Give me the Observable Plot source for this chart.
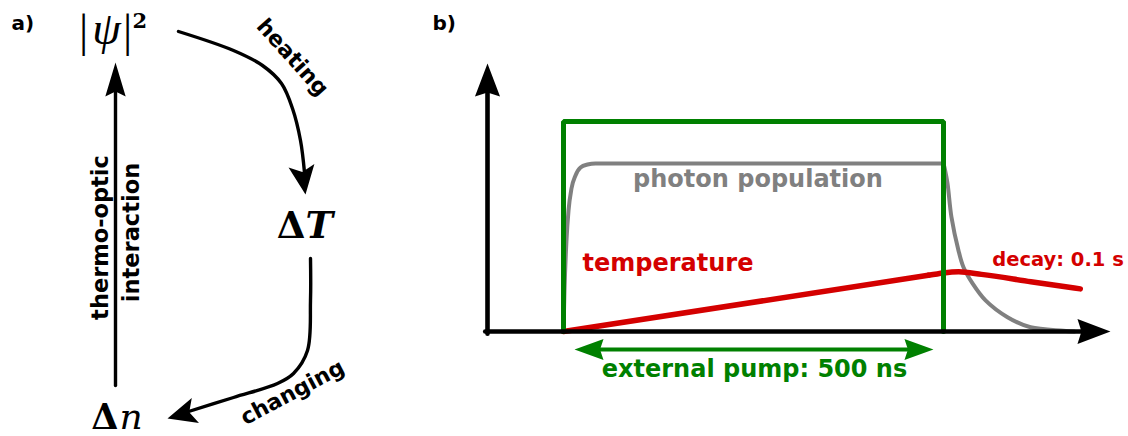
<!DOCTYPE html>
<html><head><meta charset="utf-8">
<script src="https://cdn.jsdelivr.net/npm/d3@7"></script>
<script src="https://cdn.jsdelivr.net/npm/@observablehq/plot@0.6"></script>
<style>
html,body{margin:0;padding:0;background:#fff;}
#wrap{display:flex;width:1128px;height:436px;overflow:hidden;background:#fff;}
#wrap svg{overflow:visible;}
</style></head><body><div id="wrap"></div>
<script>
// ================= Panel a: feedback loop (schematic units) =================
const loopEdgeLabels = ["heating", "changing"];
const loopFeedbackLabel = ["thermo-optic", "interaction"];
const heatingPath = [[178,31],[233,50],[262,65],[281,83],[292,108],[300,140],[304,172]];
const changingPath = [[310,258],[310,300],[307,350],[293,373],[277,383],[233,397],[185,412]];
const feedbackPath = [[115,385],[115,90]];
const curvedHeads = [
  {x:305, y:194, dir:172},
  {x:167, y:418, dir:-106}
];
const straightHead = [{x:115, y:62, dir:0}];

// ================= Panel b: time traces (t in ns, amplitude a.u.) =================
const pumpT = [0, 0, 500, 500];
const pumpV = [0, 1, 1, 0];
const photonRiseT = [0, 1.3, 3.9, 6.6, 10.5, 15.8, 22.4, 31.6, 42.1, 500];
const photonRiseV = [0, 0.195, 0.433, 0.576, 0.681, 0.743, 0.781, 0.795, 0.8, 0.8];
const photonDecayT = [500, 502, 505.3, 510.5, 519.7, 526.3, 538.2, 555.3, 584.2, 614.5, 657.9, 672];
const photonDecayV = [0.8, 0.77, 0.705, 0.544, 0.386, 0.306, 0.229, 0.148, 0.068, 0.020, 0.004, 0];
const tempRiseT = [0, 480];
const tempRiseV = [0, 0.2675];
const tempDecayT = [480, 500, 520, 550, 615, 680];
const tempDecayV = [0.2675, 0.279, 0.284, 0.272, 0.237, 0.203];
const pumpSpan = [14.5, 486.8];   // ns, ends of the double arrow
const pumpSpanLevel = -0.0857;
const axisOriginT = -100, axisEndT = 719.7, axisTopV = 1.276;

const seriesLabels = ["photon population", "temperature", "decay: 0.1 s", "external pump: 500 ns"];
const labelT = [255.9, 137.5, 650.7, 251.3];
const labelV = [0.690, 0.290, 0.314, -0.219];

// ---------- helpers ----------
function headShape(spread, notch) {
  return {
    draw(ctx, l) {
      const w = l * spread;
      ctx.moveTo(0, -l);
      ctx.lineTo(-w, 0);
      ctx.lineTo(0, -l * notch);
      ctx.lineTo(w, 0);
      ctx.closePath();
    }
  };
}
const SANS = "DejaVu Sans";
const SERIF = "DejaVu Serif";
const pts = (T, V) => T.map((t, i) => ({t, v: V[i]}));

// ================= Build panel a =================
const toPts = (arr) => arr.map(([x, y]) => ({x, y}));
const panelA = Plot.plot({
  width: 420, height: 436,
  margin: 0,
  x: {domain: [0, 420], range: [0, 420], axis: null},
  y: {domain: [0, 436], range: [0, 436], axis: null},
  style: {background: "#fff", fontFamily: SANS},
  marks: [
    Plot.line(toPts(heatingPath), {x: "x", y: "y", curve: "catmull-rom", stroke: "black", strokeWidth: 3.4}),
    Plot.line(toPts(changingPath), {x: "x", y: "y", curve: "catmull-rom", stroke: "black", strokeWidth: 3.4}),
    Plot.line(toPts(feedbackPath), {x: "x", y: "y", stroke: "black", strokeWidth: 3.4}),
    Plot.vector(curvedHeads, {x: "x", y: "y", rotate: "dir", length: 29, anchor: "end",
      shape: headShape(0.45, 0.22), fill: "black", stroke: "none"}),
    Plot.vector(straightHead, {x: "x", y: "y", rotate: "dir", length: 34, anchor: "end",
      shape: headShape(0.3, 0.15), fill: "black", stroke: "none"}),
    // panel tag
    Plot.text(["a)"], {x: [11], y: [29], text: d => d, textAnchor: "start", lineAnchor: "bottom",
      fontSize: 20, fontWeight: "bold", fontFamily: SANS, fill: "black"}),
    // |psi|^2
    Plot.text(["|", "|"], {x: [83, 127], y: [45, 45], text: d => d, lineAnchor: "bottom",
      fontSize: 46, fontFamily: "Liberation Serif", fill: "black"}),
    Plot.text(["ψ"], {x: [106], y: [43], text: d => d, lineAnchor: "bottom",
      fontSize: 46, fontStyle: "italic", fontFamily: "Liberation Serif", fill: "black"}),
    Plot.text(["2"], {x: [132], y: [27], text: d => d, textAnchor: "start", lineAnchor: "bottom",
      fontSize: 21, fontWeight: "bold", fontFamily: SERIF, fill: "black"}),
    // Delta T and Delta n
    Plot.text(["Δ"], {x: [305], y: [237], text: d => d, textAnchor: "end", lineAnchor: "bottom",
      fontSize: 37, fontWeight: "bold", fontFamily: SERIF, fill: "black"}),
    Plot.text(["T"], {x: [305], y: [237], text: d => d, textAnchor: "start", lineAnchor: "bottom",
      fontSize: 37, fontWeight: "bold", fontStyle: "italic", fontFamily: SERIF, fill: "black"}),
    Plot.text(["Δ"], {x: [118], y: [428], text: d => d, textAnchor: "end", lineAnchor: "bottom",
      fontSize: 35, fontWeight: "bold", fontFamily: SERIF, fill: "black"}),
    Plot.text(["n"], {x: [119], y: [428], text: d => d, textAnchor: "start", lineAnchor: "bottom",
      fontSize: 36, fontStyle: "italic", fontFamily: SERIF, fill: "black"}),
    // edge labels
    Plot.text([loopEdgeLabels[0]], {x: [292], y: [57], text: d => d, rotate: 48,
      fontSize: 22, fontWeight: "bold", fontFamily: SANS, fill: "black"}),
    Plot.text([loopEdgeLabels[1]], {x: [292], y: [392], text: d => d, rotate: -28,
      fontSize: 22, fontWeight: "bold", fontFamily: SANS, fill: "black"}),
    Plot.text(loopFeedbackLabel, {x: [100, 131], y: [237, 232], text: d => d, rotate: -90,
      fontSize: 22.5, fontWeight: "bold", fontFamily: SANS, fill: "black"})
  ]
});

// ================= Build panel b =================
const labels = seriesLabels.map((text, i) => ({text, t: labelT[i], v: labelV[i]}));
const GREEN = "#008000", RED = "#d40000", GRAY = "#808080";

const panelB = Plot.plot({
  width: 708, height: 436,
  margin: 0,
  x: {domain: [-188.16, 743.42], range: [0, 708], axis: null},
  y: {domain: [-0.5, 1.5762], range: [436, 0], axis: null},
  style: {background: "#fff", fontFamily: SANS},
  marks: [
    Plot.line(pts(photonRiseT, photonRiseV), {x: "t", y: "v", curve: "monotone-x", stroke: GRAY, strokeWidth: 4}),
    Plot.line(pts(photonDecayT, photonDecayV), {x: "t", y: "v", curve: "catmull-rom", stroke: GRAY, strokeWidth: 4}),
    Plot.line(pts(tempRiseT, tempRiseV), {x: "t", y: "v", stroke: RED, strokeWidth: 5.5}),
    Plot.line(pts(tempDecayT, tempDecayV), {x: "t", y: "v", curve: "monotone-x", stroke: RED, strokeWidth: 5.5}),
    Plot.line(pts(pumpT, pumpV), {x: "t", y: "v", stroke: GREEN, strokeWidth: 5, strokeLinejoin: "miter"}),
    // axes
    Plot.line([{t: axisOriginT - 3, v: 0}, {t: axisEndT - 32, v: 0}], {x: "t", y: "v", stroke: "black", strokeWidth: 4.6}),
    Plot.line([{t: axisOriginT, v: -0.011}, {t: axisOriginT, v: axisTopV - 0.13}], {x: "t", y: "v", stroke: "black", strokeWidth: 4.6}),
    Plot.vector([{t: axisEndT, v: 0, r: 90}, {t: axisOriginT, v: axisTopV, r: 0}],
      {x: "t", y: "v", rotate: "r", length: 33, anchor: "end", shape: headShape(0.38, 0.12), fill: "black", stroke: "none"}),
    // pump duration double arrow
    Plot.line([{t: pumpSpan[0] + 20, v: pumpSpanLevel}, {t: pumpSpan[1] - 20, v: pumpSpanLevel}],
      {x: "t", y: "v", stroke: GREEN, strokeWidth: 4}),
    Plot.vector([{t: pumpSpan[0], v: pumpSpanLevel, r: -90}, {t: pumpSpan[1], v: pumpSpanLevel, r: 90}],
      {x: "t", y: "v", rotate: "r", length: 29, anchor: "end", shape: headShape(0.36, 0.12), fill: GREEN, stroke: "none"}),
    // labels
    Plot.text(["b)"], {x: [-172.4], y: [1.438], text: d => d, textAnchor: "start", lineAnchor: "bottom",
      fontSize: 20, fontWeight: "bold", fontFamily: SANS, fill: "black"}),
    Plot.text([labels[0]], {x: "t", y: "v", text: "text", lineAnchor: "bottom",
      fontSize: 24, fontWeight: "bold", fontFamily: SANS, fill: GRAY}),
    Plot.text([labels[1]], {x: "t", y: "v", text: "text", lineAnchor: "bottom",
      fontSize: 24, fontWeight: "bold", fontFamily: SANS, fill: RED}),
    Plot.text([labels[2]], {x: "t", y: "v", text: "text", lineAnchor: "bottom",
      fontSize: 19.5, fontWeight: "bold", fontFamily: SANS, fill: RED}),
    Plot.text([labels[3]], {x: "t", y: "v", text: "text", lineAnchor: "bottom",
      fontSize: 24, fontWeight: "bold", fontFamily: SANS, fill: GREEN})
  ]
});

const wrap = document.getElementById("wrap");
wrap.appendChild(panelA);
wrap.appendChild(panelB);
</script>
</body></html>
